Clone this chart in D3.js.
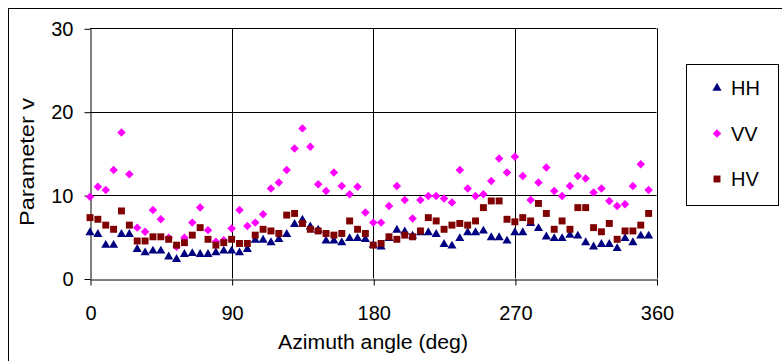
<!DOCTYPE html>
<html>
<head>
<meta charset="utf-8">
<script src="https://cdn.jsdelivr.net/npm/d3@7"></script>
<style>
  body { margin: 0; background: #fff; }
  svg { display: block; font-family: "Liberation Sans", Arial, sans-serif; }
</style>
</head>
<body>
<svg id="chart"></svg>
<script>
// azimuth angle, every 5 deg
const azimuth = d3.range(0, 360, 5);

const hh = [5.5, 5.3, 4.0, 4.0, 5.3, 5.3, 3.5, 3.1, 3.3, 3.3,
  2.6, 2.3, 2.9, 3.0, 2.9, 2.9, 3.1, 3.3, 3.3, 3.1,
  3.5, 4.6, 4.6, 4.3, 4.7, 5.3, 6.5, 7.0, 6.2, 5.8,
  4.5, 4.5, 4.3, 4.8, 4.8, 4.7, 4.0, 3.8, 4.8, 5.8,
  5.6, 5.1, 5.5, 5.5, 5.3, 4.1, 3.9, 4.8, 5.5, 5.5,
  5.7, 4.9, 4.9, 4.5, 5.5, 5.5, 6.6, 6.0, 5.0, 4.8,
  4.8, 5.2, 5.1, 4.3, 3.8, 4.1, 4.1, 3.6, 4.8, 4.3,
  5.1, 5.1];

const vv = [9.8, 11.0, 10.6, 13.0, 17.5, 12.5, 6.1, 5.6, 8.2, 7.1,
  4.9, 3.8, 4.9, 6.7, 8.5, 5.8, 4.4, 4.6, 6.0, 8.2,
  6.3, 6.7, 7.7, 10.8, 11.5, 13.0, 15.6, 18.0, 15.8, 11.3,
  10.5, 12.7, 11.1, 10.1, 11.0, 7.9, 6.7, 6.7, 8.7, 11.1,
  9.4, 7.2, 9.4, 9.9, 9.9, 9.6, 9.1, 13.0, 10.8, 9.9,
  10.1, 11.7, 14.4, 12.7, 14.6, 12.3, 9.4, 11.5, 13.3, 10.5,
  9.9, 11.1, 12.3, 12.0, 10.3, 10.8, 9.3, 8.7, 8.9, 11.1,
  13.7, 10.6];

const hv = [7.3, 7.1, 6.4, 5.9, 8.1, 6.4, 4.5, 4.5, 5.0, 5.0,
  4.7, 4.0, 4.3, 5.2, 6.1, 4.7, 4.0, 4.3, 4.7, 4.2,
  4.2, 5.2, 5.9, 5.7, 5.4, 7.6, 7.8, 6.6, 5.9, 5.7,
  5.4, 5.2, 5.4, 6.9, 5.9, 5.4, 4.0, 4.2, 5.0, 4.7,
  5.2, 5.0, 5.7, 7.3, 6.9, 5.9, 6.4, 6.6, 6.4, 6.9,
  8.5, 9.3, 9.3, 7.1, 6.8, 7.3, 6.9, 9.0, 7.8, 5.9,
  6.9, 5.9, 8.5, 8.5, 6.1, 5.6, 6.6, 4.7, 5.7, 5.7,
  6.4, 7.8];

const seriesNames = ["HH", "VV", "HV"];
const xTicks = [0, 90, 180, 270, 360];
const yTicks = [0, 10, 20, 30];

const W = 782, H = 361;
const plot = {left: 90, right: 656.5, top: 28.3, bottom: 278.5};

const colors = {HH: "#000080", VV: "#ff00ff", HV: "#800000"};
const shapes = {
  HH: d3.symbol(d3.symbolTriangle, 36),
  VV: d3.symbol(d3.symbolSquare, 36),
  HV: d3.symbol(d3.symbolSquare, 48)
};
const rotate = {HH: 0, VV: 45, HV: 0};

const svg = d3.select("#chart").attr("width", W).attr("height", H);

// chart frame
svg.append("rect")
  .attr("x", 8.5).attr("y", 8.5)
  .attr("width", 900).attr("height", 500)
  .attr("fill", "none").attr("stroke", "#000");

const x = d3.scaleLinear().domain([0, 360]).range([plot.left, plot.right]);
const y = d3.scaleLinear().domain([0, 30]).range([plot.bottom, plot.top]);

// gridlines
svg.append("g")
  .selectAll("line.h")
  .data(yTicks.filter(d => d > 0))
  .enter().append("line")
  .attr("x1", plot.left).attr("x2", plot.right)
  .attr("y1", d => Math.round(y(d)) + 0.5).attr("y2", d => Math.round(y(d)) + 0.5)
  .attr("stroke", "#000");

svg.append("g")
  .selectAll("line.v")
  .data(xTicks.filter(d => d > 0))
  .enter().append("line")
  .attr("x1", d => Math.round(x(d)) + 0.5).attr("x2", d => Math.round(x(d)) + 0.5)
  .attr("y1", plot.top).attr("y2", plot.bottom)
  .attr("stroke", "#000");

const xAxis = d3.axisBottom(x).tickValues(xTicks).tickSize(6).tickSizeOuter(0).tickPadding(20);
const yAxis = d3.axisLeft(y).tickValues(yTicks).tickSize(6).tickSizeOuter(0).tickPadding(11);

const gx = svg.append("g")
  .attr("transform", `translate(0.5, ${Math.round(plot.bottom) + 0.5})`)
  .call(xAxis);
const gy = svg.append("g")
  .attr("transform", `translate(${Math.round(plot.left) + 0.5}, 0.5)`)
  .call(yAxis);

[gx, gy].forEach(g => {
  g.selectAll("path, line").attr("stroke", "#000");
  g.selectAll("text").attr("fill", "#000").style("font-size", "20px").style("font-family", "Liberation Sans, Arial, sans-serif");
});

// markers
const data = {HH: hh, VV: vv, HV: hv};
seriesNames.forEach(name => {
  svg.append("g")
    .selectAll("path")
    .data(azimuth.map((a, i) => [a, data[name][i]]))
    .enter().append("path")
    .attr("d", shapes[name])
    .attr("transform", d => `translate(${x(d[0])}, ${y(d[1])}) rotate(${rotate[name]})`)
    .attr("fill", colors[name]);
});

// axis titles
svg.append("text")
  .attr("x", 373).attr("y", 349)
  .attr("text-anchor", "middle")
  .attr("textLength", 190)
  .attr("lengthAdjust", "spacingAndGlyphs")
  .style("font-size", "20px")
  .text("Azimuth angle (deg)");

svg.append("text")
  .attr("transform", "translate(34, 162) rotate(-90)")
  .attr("text-anchor", "middle")
  .attr("textLength", 128)
  .attr("lengthAdjust", "spacingAndGlyphs")
  .style("font-size", "20px")
  .text("Parameter v");

// legend
const legend = svg.append("g");
legend.append("rect")
  .attr("x", 686.5).attr("y", 64.5)
  .attr("width", 92).attr("height", 141)
  .attr("fill", "#fff").attr("stroke", "#000");

const legendY = d3.scalePoint().domain(seriesNames).range([88, 179]);
seriesNames.forEach(name => {
  legend.append("path")
    .attr("d", shapes[name])
    .attr("transform", `translate(717, ${legendY(name)}) rotate(${rotate[name]})`)
    .attr("fill", colors[name]);
  legend.append("text")
    .attr("x", 731).attr("y", legendY(name))
    .attr("dy", "0.35em")
    .style("font-size", "20px")
    .text(name);
});
</script>
</body>
</html>
